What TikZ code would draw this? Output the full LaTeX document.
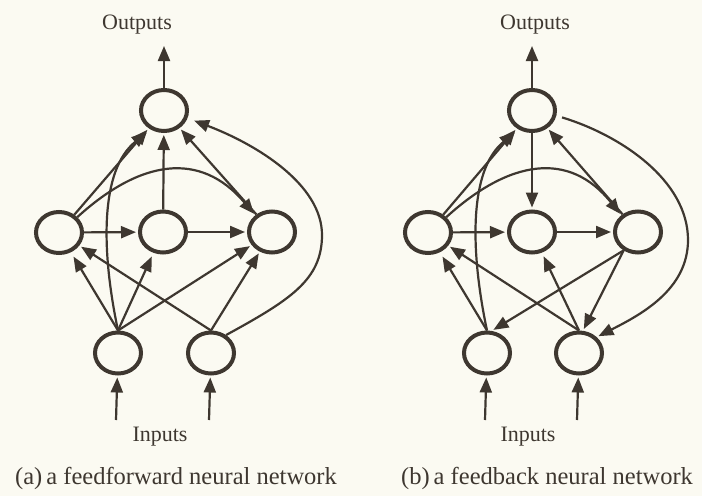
\documentclass[tikz,border=0pt]{standalone}
\usepackage{fontspec}
\setmainfont{Liberation Serif}
\usetikzlibrary{arrows.meta,shapes.geometric}
\definecolor{ink}{RGB}{62,55,48}
\definecolor{paper}{RGB}{251,250,242}
\begin{document}
\begin{tikzpicture}[x=1pt,y=1pt,
  neuron/.style={ellipse,draw=ink,line width=4pt,minimum width=46pt,minimum height=41pt,inner sep=0pt},
  edge/.style={draw=ink,line width=2.2pt,-{Triangle[length=15pt,width=12pt]},shorten >=2pt},
  lbl/.style={text=ink,inner sep=0pt,font=\fontsize{22}{24}\selectfont},
  captext/.style={text=ink,inner sep=0pt,font=\fontsize{24.5}{28}\selectfont}]
\fill[paper] (0,0) rectangle (702,-496);
\useasboundingbox (0,0) rectangle (702,-496);

% ---------- (a) feedforward network ----------
\node[neuron] (topA) at (164,-110.5) {};
\node[neuron] (mlA)  at (59,-232.5) {};
\node[neuron] (mmA)  at (163,-232) {};
\node[neuron] (mrA)  at (272,-232) {};
\node[neuron] (blA)  at (118,-353) {};
\node[neuron] (brA)  at (211,-353) {};

\node[lbl] (outA) at (137,-25) {Outputs};
\node[lbl] (inA)  at (160,-437) {Inputs};
\node[captext] (capA) at (176,-478) {(a)\,a feedforward neural network};

\coordinate (oA) at (164,-46);
\coordinate (iA1) at (116,-420);
\coordinate (iA2) at (209,-420);

\draw[edge,shorten >=0pt] (topA) -- (oA);
\draw[edge] (iA1) -- (blA);
\draw[edge] (iA2) -- (brA);

\draw[edge] (mlA) -- (topA);
\draw[edge] (mmA) -- (topA);
\draw[edge] (mrA) -- (topA);
\draw[edge] (mlA) -- (mmA);
\draw[edge] (mmA) -- (mrA);
\draw[edge] (mlA.40) .. controls (140,-160) and (200,-150) .. (mrA.135);
\draw[edge,shorten >=5pt] (blA.north) .. controls (101,-250) and (100,-170) .. (topA.235);
\draw[edge,shorten >=7pt] (brA.50) .. controls (290,-300) and (322,-280) .. (322,-235)
   .. controls (322,-185) and (258,-145) .. (topA.-18);

\draw[edge,shorten >=5pt] (blA.north) -- (mlA);
\draw[edge,shorten >=4pt] (blA.north) -- (mmA);
\draw[edge] (blA.north) -- (mrA);
\draw[edge] (brA.north) -- (mlA);
\draw[edge] (brA.north) -- (mrA);

% ---------- (b) feedback network ----------
\node[neuron] (topB) at (532,-110.5) {};
\node[neuron] (mlB)  at (428,-232.5) {};
\node[neuron] (mmB)  at (532,-232) {};
\node[neuron] (mrB)  at (638,-232) {};
\node[neuron] (blB)  at (487,-353) {};
\node[neuron] (brB)  at (579,-353) {};

\node[lbl] (outB) at (535,-25) {Outputs};
\node[lbl] (inB)  at (528,-437) {Inputs};
\node[captext] (capB) at (547,-478) {(b)\,a feedback neural network};

\coordinate (oB) at (532,-46);
\coordinate (iB1) at (485,-420);
\coordinate (iB2) at (577,-420);

\draw[edge,shorten >=0pt] (topB) -- (oB);
\draw[edge] (iB1) -- (blB);
\draw[edge] (iB2) -- (brB);

\draw[edge] (mlB) -- (topB);
\draw[edge] (topB) -- (mmB);
\draw[edge] (mrB) -- (topB);
\draw[edge] (mlB) -- (mmB);
\draw[edge] (mmB) -- (mrB);
\draw[edge] (mlB.40) .. controls (509,-160) and (569,-150) .. (mrB.135);
\draw[edge,shorten >=5pt] (blB.north) .. controls (470,-250) and (469,-170) .. (topB.235);
\draw[edge,shorten <=6pt] (topB.-12) .. controls (620,-135) and (688,-180) .. (688,-240)
   .. controls (688,-290) and (640,-315) .. (brB.42);

\draw[edge,shorten >=5pt] (blB.north) -- (mlB);
\draw[edge] (brB.north) -- (mlB);
\draw[edge,shorten >=4pt] (brB.north) -- (mmB);
\draw[edge] (mrB.-128) -- (blB.78);
\draw[edge] (mrB.-128) -- (brB.80);
\end{tikzpicture}
\end{document}
